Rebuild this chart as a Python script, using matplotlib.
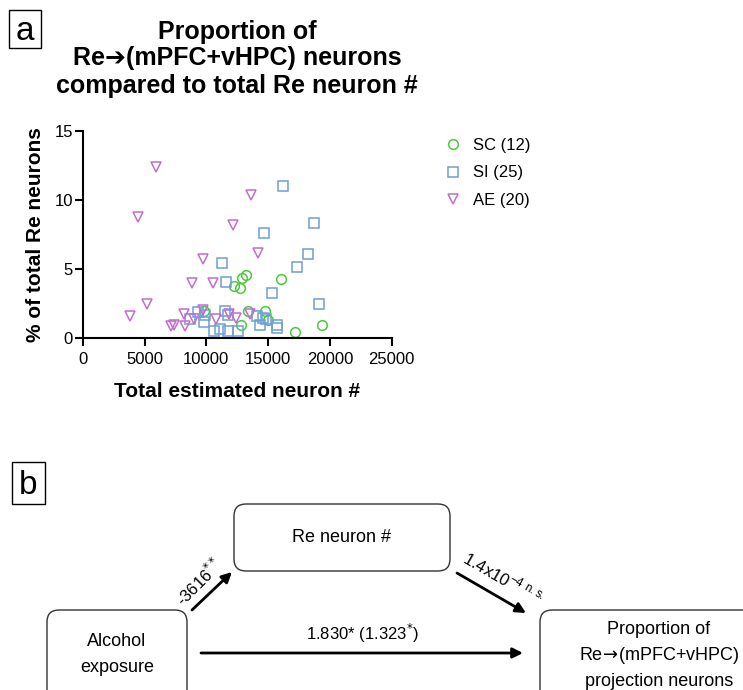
import matplotlib
matplotlib.use('Agg')
import matplotlib.pyplot as plt
from matplotlib.patches import FancyBboxPatch, Rectangle

plt.rcParams['font.family'] = ['Liberation Sans', 'DejaVu Sans']

# ---------------- data (panel a) ----------------
sc_x = [13220, 12920, 12250, 12730, 16050, 13350, 14780, 9820, 15000, 12840, 17180, 19370]
sc_y = [4.52, 4.31, 3.77, 3.63, 4.28, 1.94, 1.94, 1.96, 1.28, 0.92, 0.41, 0.90]

si_x = [16240, 18740, 14700, 18230, 17310, 11250, 11600, 15350, 19100, 9360, 9900, 9820,
        8680, 11520, 14080, 14620, 14830, 14350, 15700, 15750, 10630, 11110, 11790, 12540, 11790]
si_y = [11.03, 8.30, 7.57, 6.05, 5.10, 5.39, 4.02, 3.22, 2.47, 1.89, 1.64, 1.11,
        1.33, 1.94, 1.57, 1.40, 1.33, 0.90, 0.92, 0.68, 0.48, 0.60, 0.48, 0.48, 1.64]

ae_x = [5960, 4500, 13620, 12140, 9760, 14210, 8820, 10570, 5200, 3800, 8170, 8980,
        7120, 7390, 8250, 10790, 11870, 12380, 13540, 9760]
ae_y = [12.41, 8.78, 10.38, 8.15, 5.73, 6.17, 3.99, 3.94, 2.42, 1.55, 1.74, 1.38,
        0.85, 0.90, 0.85, 1.33, 1.72, 1.43, 1.72, 2.01]

group_labels = ['SC (12)', 'SI (25)', 'AE (20)']
x_ticks = [0, 5000, 10000, 15000, 20000, 25000]
y_ticks = [0, 5, 10, 15]

# ---------------- data (panel b) ----------------
path_a = "-3616$^{**}$"
path_b = "1.4x10$^{\\mathregular{-4\\ n.s.}}$"
path_c = "1.830* (1.323$^{*}$)"

c_sc = '#4dc93b'
c_si = '#6e9fd6'
c_ae = '#c46bd0'

W, H = 743, 690
fig = plt.figure(figsize=(W / 100, H / 100), dpi=100)


def fx(p):
    return p / W


def fy(p):
    return 1 - p / H


# ---------------- panel a ----------------
ax = fig.add_axes([fx(82.7), fy(337.7), (391.7 - 82.7) / W, (337.7 - 131) / H])
ax.plot(sc_x, sc_y, 'o', ls='none', mfc='none', mec=c_sc, ms=7, mew=1.1,
        label=group_labels[0], clip_on=False)
ax.plot(si_x, si_y, 's', ls='none', mfc='none', mec=c_si, ms=6.5, mew=1.1,
        label=group_labels[1], clip_on=False)
ax.plot(ae_x, ae_y, 'v', ls='none', mfc='none', mec=c_ae, ms=7, mew=1.1,
        label=group_labels[2], clip_on=False)
ax.set_xlim(0, 25000)
ax.set_ylim(0, 15)
ax.set_xticks(x_ticks)
ax.set_xticklabels([str(t) for t in x_ticks])
ax.set_yticks(y_ticks)
ax.set_yticklabels([str(t) for t in y_ticks])
for s in ['top', 'right']:
    ax.spines[s].set_visible(False)
for s in ['left', 'bottom']:
    ax.spines[s].set_linewidth(1.5)
ax.tick_params(axis='both', width=1.5, length=5.5, labelsize=12, colors='black')
ax.tick_params(axis='x', pad=5)
ax.tick_params(axis='y', pad=1.5)
ax.set_ylabel('% of total Re neurons', fontsize=15, fontweight='bold')
ax.yaxis.set_label_coords(-0.122, 0.5)
ax.set_xlabel('Total estimated neuron #', fontsize=15, fontweight='bold')
ax.xaxis.set_label_coords(0.5, -0.212)

leg = ax.legend(loc='upper left', bbox_to_anchor=(fx(445), fy(138)),
                bbox_transform=fig.transFigure, frameon=False, fontsize=12,
                handlelength=1.0, handletextpad=0.7, labelspacing=0.75,
                borderpad=0, borderaxespad=0)

# title
title_lines = ['Proportion of', 'Re\u2794(mPFC+vHPC) neurons', 'compared to total Re neuron #']
for line, yb in zip(title_lines, [38.5, 65.5, 92.5]):
    fig.text(fx(237), fy(yb), line, ha='center', va='baseline', fontsize=18,
             fontweight='bold', family=['Liberation Sans', 'DejaVu Sans'])

# ---------------- overlay for labels / panel b ----------------
ov = fig.add_axes([0, 0, 1, 1], zorder=-1)
ov.set_xlim(0, W)
ov.set_ylim(H, 0)
ov.axis('off')

ov.add_patch(Rectangle((9, 10), 32, 38, fill=False, lw=1.0, ec='black'))
ov.text(25, 40, 'a', ha='center', va='baseline', fontsize=24)
ov.add_patch(Rectangle((12, 462), 33, 42, fill=False, lw=1.0, ec='black'))
ov.text(28.5, 494, 'b', ha='center', va='baseline', fontsize=24)

box_kw = dict(boxstyle='round,pad=0,rounding_size=12', fc='white', ec='#333333', lw=1.0)
ov.add_patch(FancyBboxPatch((234, 504), 216, 67, **box_kw))
ov.add_patch(FancyBboxPatch((47, 610), 140, 110, **box_kw))
ov.add_patch(FancyBboxPatch((540, 610), 240, 110, **box_kw))

ov.text(342, 538, 'Re neuron #', ha='center', va='center', fontsize=13)
ov.text(117, 642, 'Alcohol', ha='center', va='center', fontsize=13)
ov.text(117, 667, 'exposure', ha='center', va='center', fontsize=13)
ov.text(659, 630, 'Proportion of', ha='center', va='center', fontsize=13)
ov.text(659, 656, 'Re$\\!\\rightarrow\\!$(mPFC+vHPC)', ha='center', va='center', fontsize=13)
ov.text(659, 681, 'projection neurons', ha='center', va='center', fontsize=13)

arrow_kw = dict(arrowstyle='-|>,head_length=0.6,head_width=0.3', color='black', lw=2,
                shrinkA=0, shrinkB=0)
ov.annotate('', xy=(523, 653), xytext=(201, 653), arrowprops=arrow_kw)
ov.annotate('', xy=(232, 572), xytext=(192, 610), arrowprops=arrow_kw)
ov.annotate('', xy=(526, 613), xytext=(457, 573), arrowprops=arrow_kw)

ov.text(362, 633, path_c, ha='center', va='center', fontsize=12)
ov.text(199, 582, path_a, ha='center', va='center', fontsize=12, rotation=45)
ov.text(503, 578, path_b, ha='center', va='center', fontsize=12, rotation=-30)

fig.savefig('out.png', dpi=100)
